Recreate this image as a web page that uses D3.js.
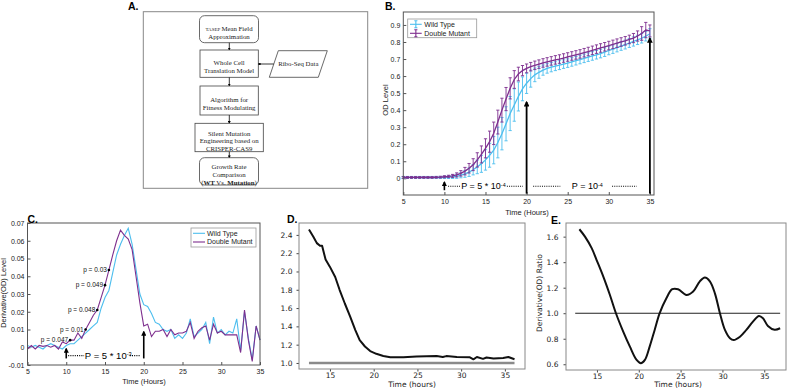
<!DOCTYPE html>
<html>
<head>
<meta charset="utf-8">
<script src="https://cdn.jsdelivr.net/npm/d3@7"></script>
<style>
  body { margin: 0; background: #fff; }
</style>
</head>
<body>
<svg id="fig" width="793" height="390"></svg>
<script>
// ---- donnees ----

// B et C : une lecture toutes les demi-heures
const temps = [5,5.5,6,6.5,7,7.5,8,8.5,9,9.5,10,10.5,11,11.5,12,12.5,13,13.5,14,14.5,
  15,15.5,16,16.5,17,17.5,18,18.5,19,19.5,20,20.5,21,21.5,22,22.5,23,23.5,24,24.5,
  25,25.5,26,26.5,27,27.5,28,28.5,29,29.5,30,30.5,31,31.5,32,32.5,33,33.5,34,34.5,35];

// B : niveau OD
const odWT = [0.005,0.005,0.005,0.005,0.005,0.005,0.005,0.005,0.005,0.005,
  0.006,0.007,0.009,0.012,0.018,0.026,0.036,0.05,0.067,0.085,
  0.108,0.135,0.165,0.21,0.262,0.32,0.38,0.43,0.48,0.525,
  0.558,0.585,0.607,0.622,0.635,0.645,0.652,0.658,0.664,0.67,
  0.676,0.683,0.69,0.697,0.704,0.711,0.718,0.725,0.732,0.74,
  0.75,0.758,0.767,0.776,0.785,0.794,0.803,0.812,0.822,0.834,0.848];
const errWT = [0.006,0.006,0.006,0.006,0.006,0.006,0.006,0.006,0.006,0.006,
  0.007,0.008,0.01,0.012,0.015,0.02,0.025,0.03,0.04,0.05,
  0.06,0.07,0.08,0.09,0.095,0.1,0.1,0.095,0.085,0.07,
  0.06,0.05,0.04,0.035,0.03,0.028,0.027,0.026,0.026,0.025,
  0.025,0.025,0.025,0.025,0.025,0.025,0.025,0.025,0.025,0.025,
  0.025,0.025,0.025,0.025,0.026,0.026,0.027,0.027,0.028,0.028,0.03];
const odMut = [0.005,0.005,0.005,0.005,0.005,0.005,0.005,0.005,0.006,0.007,
  0.009,0.011,0.014,0.02,0.029,0.042,0.059,0.08,0.108,0.14,
  0.176,0.215,0.264,0.33,0.40,0.465,0.528,0.58,0.612,0.632,
  0.645,0.655,0.663,0.67,0.677,0.683,0.689,0.695,0.70,0.706,
  0.712,0.718,0.724,0.73,0.737,0.744,0.751,0.758,0.765,0.772,
  0.779,0.786,0.793,0.80,0.807,0.815,0.823,0.835,0.85,0.87,0.865];
const errMut = [0.005,0.005,0.005,0.005,0.005,0.005,0.005,0.005,0.005,0.005,
  0.006,0.007,0.009,0.012,0.016,0.022,0.028,0.035,0.042,0.05,
  0.056,0.062,0.066,0.07,0.07,0.068,0.062,0.052,0.04,0.03,
  0.026,0.025,0.025,0.025,0.025,0.025,0.025,0.025,0.025,0.025,
  0.025,0.025,0.025,0.025,0.025,0.025,0.025,0.025,0.025,0.025,
  0.025,0.025,0.025,0.025,0.025,0.025,0.027,0.03,0.04,0.045,0.035];

// C : derivee du niveau OD
const derWT = [0.001,0,0.001,0,-0.001,0.001,0.002,0.001,0,-0.001,
  0.001,0.002,0.002,0.004,0.006,0.008,0.01,0.012,0.014,0.022,
  0.028,0.032,0.042,0.052,0.058,0.063,0.067,0.058,0.044,0.03,
  0.024,0.023,0.019,0.014,0.013,0.01,0.009,0.01,0.005,0.007,
  0.005,0.008,0.016,0.006,0.008,0.01,0.014,0.002,0.017,0.008,
  0.01,0.007,0.009,0.008,0.016,-0.002,0.02,0.005,-0.007,0.012,0.004];
const derMut = [-0.001,0.001,-0.001,0.001,0.0005,0.001,0,0.001,-0.001,0.003,
  0.002,0.004,0.004,0.008,0.005,0.01,0.014,0.018,0.021,0.028,
  0.035,0.0435,0.052,0.06,0.066,0.063,0.061,0.055,0.04,0.025,
  0.012,0.013,0.006,0.009,0.009,0.01,0.006,0.01,0.007,0.008,
  0.008,0.009,0.014,0.005,0.009,0.011,0.012,0.004,0.013,0.008,
  0.009,0.007,0.007,0.007,0.007,-0.003,0.021,0.004,-0.008,0.012,0.004];
const pTemps = [10.5, 12.5, 14, 15, 15.5];
const pTextes = ["p = 0.047", "p = 0.01", "p = 0.048", "p = 0.049", "p = 0.03"];

// D : rapport des niveaux OD
const tempsD = [12.6,13.1,13.5,13.86,14.1,14.5,15,15.6,16.1,16.7,17.3,17.9,18.4,19,19.6,20.3,
  21.1,21.9,23.4,24.9,27.2,27.9,28.3,29.5,31,31.4,31.8,32.5,32.9,33.7,34.8,35.4,36.1];
const ratioD = [2.46,2.38,2.31,2.28,2.28,2.13,2.05,1.94,1.80,1.65,1.51,1.36,1.25,1.18,1.13,1.10,
  1.077,1.062,1.062,1.07,1.075,1.065,1.075,1.065,1.062,1.04,1.065,1.045,1.06,1.05,1.055,1.065,1.04];

// E : rapport des derivees
const tempsE = [12.9,13.57,14.37,14.96,15.76,16.55,17.27,18.14,18.94,19.74,20.25,20.73,21.3,21.9,
  22.5,23.3,24.0,24.7,25.7,26.5,27.3,27.9,28.5,29.1,29.7,30.3,30.9,31.35,32.1,32.86,33.65,
  34.37,34.85,35.44,36.24,36.9];
const ratioE = [1.658,1.6,1.51,1.417,1.287,1.143,1.0,0.856,0.738,0.634,0.608,0.634,0.738,0.869,
  1.0,1.117,1.188,1.188,1.143,1.17,1.25,1.28,1.25,1.156,1.0,0.869,0.804,0.79,0.816,0.869,0.934,
  0.978,0.96,0.9,0.87,0.882];

// ---- styles ----
const bleu = "#4DBEEE", violet = "#7E2F8E";
const sans = "Liberation Sans, Arial, sans-serif";
const dejavu = "DejaVu Sans, sans-serif";
const serif = "Liberation Serif, Times New Roman, serif";

const svg = d3.select("#fig");

svg.append("defs").append("marker")
    .attr("id", "fleche")
    .attr("viewBox", "0 0 10 10")
    .attr("refX", 8).attr("refY", 5)
    .attr("markerWidth", 3.2).attr("markerHeight", 3.2)
    .attr("orient", "auto")
    .append("path")
    .attr("d", "M0,0 L10,5 L0,10 z")
    .attr("fill", "#000");

function cadre(x, y, couleur) {
    svg.append("rect")
        .attr("x", x.range()[0]).attr("y", y.range()[1])
        .attr("width", x.range()[1] - x.range()[0])
        .attr("height", y.range()[0] - y.range()[1])
        .attr("fill", "none").attr("stroke", couleur).attr("stroke-width", 1);
}

function lettre(txt, px, py) {
    svg.append("text").attr("x", px).attr("y", py)
        .attr("font-family", sans).attr("font-weight", "bold")
        .attr("font-size", 10.5).text(txt);
}

function styleAxe(g, police, taille, couleur) {
    g.select(".domain").remove();
    g.attr("font-family", police).attr("font-size", taille).attr("color", couleur);
    g.selectAll("text").attr("fill", "#222");
}

function fleche(x, y, t, v0, v1, large) {
    svg.append("line")
        .attr("x1", x(t)).attr("x2", x(t))
        .attr("y1", y(v0)).attr("y2", y(v1))
        .attr("stroke", "#000").attr("stroke-width", large)
        .attr("marker-end", "url(#fleche)");
}

function pointilles(x, y, t0, t1, v) {
    svg.append("line")
        .attr("x1", x(t0)).attr("x2", x(t1))
        .attr("y1", y(v)).attr("y2", y(v))
        .attr("stroke", "#000").attr("stroke-width", 1.1)
        .attr("stroke-dasharray", "1,1.2");
}

function texteP(x, y, t, v, base, exposant, taille) {
    const txt = svg.append("text").attr("x", x(t)).attr("y", y(v))
        .attr("font-family", sans).attr("font-size", taille).attr("dy", "0.35em");
    txt.append("tspan").text(base);
    txt.append("tspan").attr("font-size", taille * 0.6).attr("dy", "-0.45em").text(exposant);
}

// ================= A : schema =================
lettre("A.", 128, 10);
svg.append("rect").attr("x", 143.3).attr("y", 11.7).attr("width", 224.4).attr("height", 176.6)
    .attr("fill", "none").attr("stroke", "#888").attr("stroke-width", 1);

const boites = [
    {x: 199.5, y: 15.7, w: 59, h: 27, r: 5, lignes: [[["TASEP ", 5], ["Mean Field", 6.8]], [["Approximation", 6.8]]]},
    {x: 200, y: 50, w: 58.3, h: 27.3, r: 0, lignes: [[["Whole Cell", 6.8]], [["Translation Model", 6.8]]]},
    {x: 200, y: 86, w: 58.3, h: 29, r: 0, lignes: [[["Algorithm for", 6.8]], [["Fitness Modulating", 6.8]]]},
    {x: 195, y: 123.3, w: 68.3, h: 28.4, r: 0, lignes: [[["Silent Mutation", 6.8]], [["Engineering based on", 6.8]], [["CRISPER-CAS9", 6.8]]]},
    {x: 199.5, y: 157.7, w: 59, h: 27.3, r: 5, lignes: [[["Growth Rate", 6.8]], [["Comparison", 6.8]], [["(", 6.8], ["WT", 6.8, "bold"], [" Vs. ", 6.8], ["Mutation", 6.8, "bold"], [")", 6.8]]]}
];

boites.forEach(function(b, i) {
    svg.append("rect").attr("x", b.x).attr("y", b.y).attr("width", b.w).attr("height", b.h)
        .attr("rx", b.r).attr("fill", "#fff").attr("stroke", "#444").attr("stroke-width", 0.8);
    const n = b.lignes.length, pas = n === 3 ? 7.6 : 7.8;
    b.lignes.forEach(function(ligne, j) {
        const t = svg.append("text")
            .attr("x", b.x + b.w / 2)
            .attr("y", b.y + b.h / 2 + (j - (n - 1) / 2) * pas)
            .attr("dy", "0.35em").attr("text-anchor", "middle")
            .attr("font-family", serif).attr("fill", "#222");
        ligne.forEach(function(m) {
            t.append("tspan").attr("font-size", m[1]).attr("font-weight", m[2] || "normal").text(m[0]);
        });
    });
    if (i < boites.length - 1) {
        svg.append("line").attr("x1", 229.3).attr("x2", 229.3)
            .attr("y1", b.y + b.h).attr("y2", boites[i + 1].y)
            .attr("stroke", "#222").attr("stroke-width", 0.9)
            .attr("marker-end", "url(#fleche)");
    }
});

// parallelogramme Ribo-Seq
svg.append("path").attr("d", "M278.3,50.7 L327.3,50.7 L318.3,77.3 L269.3,77.3 Z")
    .attr("fill", "#fff").attr("stroke", "#444").attr("stroke-width", 0.8);
svg.append("text").attr("x", 298.3).attr("y", 64).attr("dy", "0.35em")
    .attr("text-anchor", "middle").attr("font-family", serif).attr("font-size", 6.8)
    .attr("fill", "#222").text("Ribo-Seq Data");
svg.append("line").attr("x1", 273.8).attr("x2", 258.3).attr("y1", 64).attr("y2", 64)
    .attr("stroke", "#222").attr("stroke-width", 0.9).attr("marker-end", "url(#fleche)");

// ================= B : niveau OD =================
const xB = d3.scaleLinear().domain([5, 35.5]).range([403.3, 654]);
const yB = d3.scaleLinear().domain([-0.098, 0.976]).range([195, 12]);

svg.append("g").attr("transform", `translate(${xB.range()[0]},0)`)
    .call(d3.axisLeft(yB).tickValues([0,0.1,0.2,0.3,0.4,0.5,0.6,0.7,0.8,0.9])
        .tickSize(-3).tickPadding(3).tickFormat(d => String(d)))
    .call(g => styleAxe(g, sans, 7, "#555"));
svg.append("g").attr("transform", `translate(0,${yB.range()[0]})`)
    .call(d3.axisBottom(xB).tickValues([5,10,15,20,25,30,35]).tickSize(-3).tickPadding(4))
    .call(g => styleAxe(g, sans, 7, "#555"));

[[odWT, errWT, bleu], [odMut, errMut, violet]].forEach(function(s) {
    const pts = temps.map((t, i) => ({t: t, v: s[0][i], e: s[1][i]}));
    const g = svg.append("g").attr("stroke", s[2]).attr("stroke-width", 0.9);
    g.selectAll("line.barre").data(pts).join("line")
        .attr("x1", d => xB(d.t)).attr("x2", d => xB(d.t))
        .attr("y1", d => yB(d.v - d.e)).attr("y2", d => yB(d.v + d.e));
    g.selectAll("path.cap").data(pts).join("path")
        .attr("fill", "none")
        .attr("d", d => `M${xB(d.t) - 1.6},${yB(d.v - d.e)}h3.2M${xB(d.t) - 1.6},${yB(d.v + d.e)}h3.2`);
    svg.append("path").datum(pts)
        .attr("fill", "none").attr("stroke", s[2]).attr("stroke-width", 1.3)
        .attr("d", d3.line().x(d => xB(d.t)).y(d => yB(d.v)));
});

cadre(xB, yB, "#555");

// annotations B
fleche(xB, yB, 10, -0.07, -0.022, 1.6);
fleche(xB, yB, 20, -0.09, 0.448, 1.8);
fleche(xB, yB, 35, -0.09, 0.822, 1.8);
pointilles(xB, yB, 10.45, 11.9, -0.047);
texteP(xB, yB, 12.05, -0.047, "P = 5 * 10", "-4", 9);
pointilles(xB, yB, 17.6, 19.55, -0.047);
pointilles(xB, yB, 20.8, 24.1, -0.047);
texteP(xB, yB, 25.5, -0.047, "P = 10", "-4", 9);
pointilles(xB, yB, 30.4, 33.4, -0.047);

// legende B
svg.append("rect").attr("x", 407.7).attr("y", 19).attr("width", 69).attr("height", 18.7)
    .attr("fill", "#fff").attr("stroke", "#999").attr("stroke-width", 0.8);
[["Wild Type", bleu], ["Double Mutant", violet]].forEach(function(l, i) {
    const yy = 24.3 + i * 9;
    const g = svg.append("g").attr("stroke", l[1]).attr("stroke-width", 1.1).attr("fill", "none");
    g.append("line").attr("x1", 410).attr("x2", 421.7).attr("y1", yy).attr("y2", yy);
    g.append("path").attr("d", `M415.85,${yy - 3.5}V${yy + 3.5}M414.3,${yy - 3.5}h3.1M414.3,${yy + 3.5}h3.1`);
    svg.append("text").attr("x", 424.3).attr("y", yy).attr("dy", "0.35em")
        .attr("font-family", sans).attr("font-size", 7).attr("fill", "#222").text(l[0]);
});

svg.append("text").attr("transform", "translate(388,100) rotate(-90)")
    .attr("text-anchor", "middle").attr("font-family", sans).attr("font-size", 7.5)
    .attr("fill", "#222").text("OD Level");
svg.append("text").attr("x", 527).attr("y", 215).attr("text-anchor", "middle")
    .attr("font-family", sans).attr("font-size", 7.5).attr("fill", "#222").text("Time (Hours)");
lettre("B.", 385, 9.5);

// ================= C : derivee =================
const xC = d3.scaleLinear().domain([5, 35]).range([27.5, 260]);
const yC = d3.scaleLinear().domain([-0.01, 0.07]).range([365, 223]);

svg.append("g").attr("transform", `translate(${xC.range()[0]},0)`)
    .call(d3.axisLeft(yC).tickValues([-0.01,0,0.01,0.02,0.03,0.04,0.05,0.06,0.07])
        .tickSize(-3).tickPadding(3).tickFormat(d => String(+d.toFixed(2))))
    .call(g => styleAxe(g, sans, 7, "#555"));
svg.append("g").attr("transform", `translate(0,${yC.range()[0]})`)
    .call(d3.axisBottom(xC).tickValues([5,10,15,20,25,30,35]).tickSize(-3).tickPadding(4))
    .call(g => styleAxe(g, sans, 7, "#555"));

const ligneC = d3.line().x(d => xC(d[0])).y(d => yC(d[1]));
svg.append("path").datum(temps.map((t, i) => [t, derWT[i]]))
    .attr("fill", "none").attr("stroke", bleu).attr("stroke-width", 1.1).attr("d", ligneC);
svg.append("path").datum(temps.map((t, i) => [t, derMut[i]]))
    .attr("fill", "none").attr("stroke", violet).attr("stroke-width", 1.1).attr("d", ligneC);

cadre(xC, yC, "#555");

// valeurs p sur la courbe du mutant
pTemps.forEach(function(t, i) {
    const v = derMut[temps.indexOf(t)];
    svg.append("circle").attr("cx", xC(t)).attr("cy", yC(v)).attr("r", 1.3).attr("fill", "#000");
    svg.append("text").attr("x", xC(t) - 2).attr("y", yC(v)).attr("dy", "0.35em")
        .attr("text-anchor", "end").attr("font-family", sans).attr("font-size", 6.5)
        .attr("fill", "#111").text(pTextes[i]);
});

fleche(xC, yC, 10, -0.0063, -0.0008, 1.6);
fleche(xC, yC, 20, -0.0063, 0.0088, 1.6);
pointilles(xC, yC, 10.25, 12.3, -0.0047);
texteP(xC, yC, 12.4, -0.0047, "P = 5 * 10", "-3", 9.5);
pointilles(xC, yC, 18.2, 19.6, -0.0047);

// legende C
svg.append("rect").attr("x", 191).attr("y", 228).attr("width", 65).attr("height", 19)
    .attr("fill", "#fff").attr("stroke", "#999").attr("stroke-width", 0.8);
[["Wild Type", bleu], ["Double Mutant", violet]].forEach(function(l, i) {
    const yy = 233.3 + i * 8.7;
    svg.append("line").attr("x1", 193).attr("x2", 205).attr("y1", yy).attr("y2", yy)
        .attr("stroke", l[1]).attr("stroke-width", 1.1);
    svg.append("text").attr("x", 207).attr("y", yy).attr("dy", "0.35em")
        .attr("font-family", sans).attr("font-size", 7).attr("fill", "#222").text(l[0]);
});

svg.append("text").attr("transform", "translate(6,293) rotate(-90)")
    .attr("text-anchor", "middle").attr("font-family", sans).attr("font-size", 7.5)
    .attr("fill", "#222").text("Derivative(OD) Level");
svg.append("text").attr("x", 144).attr("y", 383.5).attr("text-anchor", "middle")
    .attr("font-family", sans).attr("font-size", 7.5).attr("fill", "#222").text("Time (Hours)");
lettre("C.", 27.5, 222.5);

// ================= D : rapport OD =================
const xD = d3.scaleLinear().domain([11.46, 37.3]).range([299, 525]);
const yD = d3.scaleLinear().domain([0.934, 2.53]).range([369, 223]);

svg.append("g").attr("transform", `translate(${xD.range()[0]},0)`)
    .call(d3.axisLeft(yD).tickValues([1.0,1.2,1.4,1.6,1.8,2.0,2.2,2.4])
        .tickSize(2.5).tickPadding(4).tickFormat(d3.format(".1f")))
    .call(g => styleAxe(g, dejavu, 7.5, "#444"));
svg.append("g").attr("transform", `translate(0,${yD.range()[0]})`)
    .call(d3.axisBottom(xD).tickValues([15,20,25,30,35]).tickSize(2.5).tickPadding(1.5))
    .call(g => styleAxe(g, dejavu, 7.5, "#444"));

svg.append("line").attr("x1", xD(tempsD[0])).attr("x2", xD(tempsD[tempsD.length - 1]))
    .attr("y1", yD(1)).attr("y2", yD(1))
    .attr("stroke", "#8a8a8a").attr("stroke-width", 2.4);
svg.append("path").datum(tempsD.map((t, i) => [t, ratioD[i]]))
    .attr("fill", "none").attr("stroke", "#111").attr("stroke-width", 2)
    .attr("stroke-linejoin", "round")
    .attr("d", d3.line().x(d => xD(d[0])).y(d => yD(d[1])));

cadre(xD, yD, "#888");
svg.append("text").attr("x", 412).attr("y", 387).attr("text-anchor", "middle")
    .attr("font-family", dejavu).attr("font-size", 7.5).attr("fill", "#222").text("Time (hours)");
lettre("D.", 287, 223);

// ================= E : rapport des derivees =================
const xE = d3.scaleLinear().domain([11.3, 37.6]).range([566, 786]);
const yE = d3.scaleLinear().domain([0.555, 1.707]).range([370, 223]);

svg.append("g").attr("transform", `translate(${xE.range()[0]},0)`)
    .call(d3.axisLeft(yE).tickValues([0.6,0.8,1.0,1.2,1.4,1.6])
        .tickSize(2.5).tickPadding(5).tickFormat(d3.format(".1f")))
    .call(g => styleAxe(g, dejavu, 7.5, "#444"));
svg.append("g").attr("transform", `translate(0,${yE.range()[0]})`)
    .call(d3.axisBottom(xE).tickValues([15,20,25,30,35]).tickSize(2.5).tickPadding(1.5))
    .call(g => styleAxe(g, dejavu, 7.5, "#444"));

svg.append("line").attr("x1", xE(12.4)).attr("x2", xE(36.9))
    .attr("y1", yE(1)).attr("y2", yE(1))
    .attr("stroke", "#222").attr("stroke-width", 1.1);
svg.append("path").datum(tempsE.map((t, i) => [t, ratioE[i]]))
    .attr("fill", "none").attr("stroke", "#111").attr("stroke-width", 2)
    .attr("d", d3.line().curve(d3.curveCatmullRom).x(d => xE(d[0])).y(d => yE(d[1])));

cadre(xE, yE, "#888");
svg.append("text").attr("transform", "translate(542,293) rotate(-90)")
    .attr("text-anchor", "middle").attr("font-family", dejavu).attr("font-size", 7.5)
    .attr("fill", "#222").text("Derivative(OD) Ratio");
svg.append("text").attr("x", 678).attr("y", 387).attr("text-anchor", "middle")
    .attr("font-family", dejavu).attr("font-size", 7.5).attr("fill", "#222").text("Time (hours)");
lettre("E.", 551, 224);
</script>
</body>
</html>
